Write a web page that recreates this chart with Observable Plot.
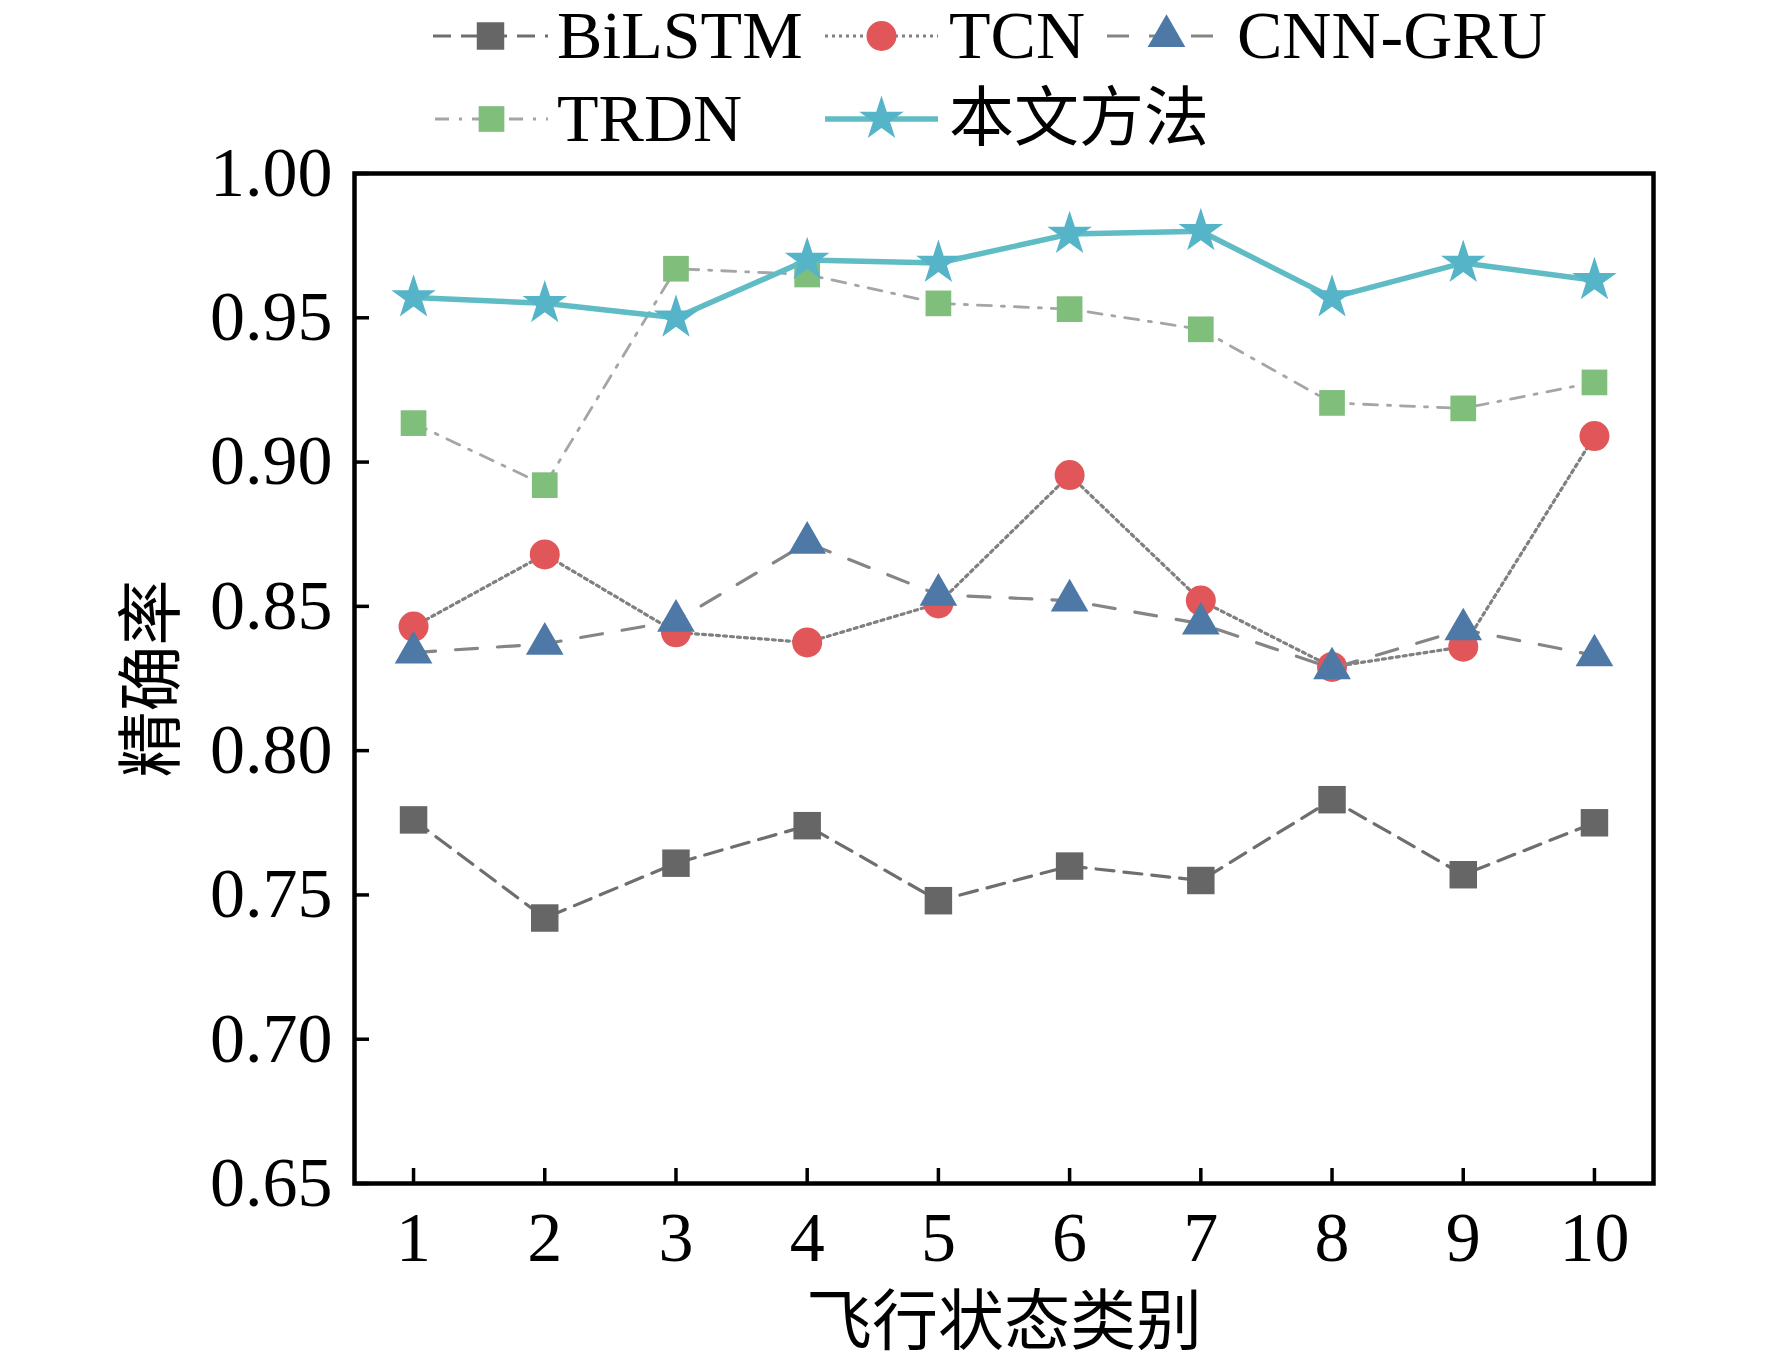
<!DOCTYPE html>
<html><head><meta charset="utf-8">
<script src="https://cdn.jsdelivr.net/npm/d3@7"></script>
<script src="https://cdn.jsdelivr.net/npm/@observablehq/plot@0.6"></script>
<style>
body{margin:0;background:#fff;}
#wrap{width:1772px;height:1367px;position:relative;background:#fff;}
#legend{width:1772px;height:140px;position:relative;}
#legend svg{overflow:visible;display:block;}
#chart svg{overflow:visible;display:block;}
</style></head><body><div id="wrap"><div id="legend"></div><div id="chart"></div></div>
<script>
// ---- data ----
const categories = [1, 2, 3, 4, 5, 6, 7, 8, 9, 10];
const seriesNames = ["BiLSTM", "TCN", "CNN-GRU", "TRDN", "本文方法"];
const bilstm = [0.776, 0.742, 0.761, 0.774, 0.748, 0.760, 0.755, 0.783, 0.757, 0.775];
const tcn    = [0.843, 0.868, 0.841, 0.8375, 0.851, 0.8955, 0.852, 0.829, 0.836, 0.909];
const cnngru = [0.834, 0.837, 0.845, 0.872, 0.854, 0.852, 0.844, 0.8285, 0.842, 0.833];
const trdn   = [0.9135, 0.892, 0.967, 0.965, 0.955, 0.953, 0.946, 0.9205, 0.9186, 0.9276];
const ours   = [0.957, 0.955, 0.950, 0.970, 0.969, 0.979, 0.980, 0.957, 0.969, 0.963];
const yTicks = [0.65, 0.70, 0.75, 0.80, 0.85, 0.90, 0.95, 1.00];
const xLabel = "飞行状态类别";
const yLabel = "精确率";

// ---- styles ----
const styles = [
  {values: bilstm, symbol: "square",   r: 15.5, fill: "#666666", stroke: "#6e6e6e", width: 3.2, dash: "18,10"},
  {values: tcn,    symbol: "circle",   r: 15,   fill: "#e15759", stroke: "#808080", width: 3.2, dash: "3,4"},
  {values: cnngru, symbol: "triangle", r: 14,   fill: "#4e79a7", stroke: "#858585", width: 3.2, dash: "22,20"},
  {values: trdn,   symbol: "square",   r: 14.5, fill: "#7fbf7b", stroke: "#a5a5a5", width: 2.8, dash: "14,10,3,10"},
  {values: ours,   symbol: "star",     r: 14,   fill: "#56b4c9", stroke: "#5fbcc4", width: 5.5, dash: null}
];

const rows = (vals) => categories.map((c, i) => ({x: c, y: vals[i]}));

const font = "'Liberation Serif', 'Noto Sans CJK SC', serif";
const L = 140;
const H = 1367 - L;

const marks = [];
styles.forEach((s) => {
  marks.push(Plot.line(rows(s.values), {x: "x", y: "y", stroke: s.stroke, strokeWidth: s.width, strokeDasharray: s.dash || undefined}));
  marks.push(Plot.dot(rows(s.values), {x: "x", y: "y", symbol: s.symbol, r: s.r, fill: s.fill, stroke: "none"}));
});

const chart = Plot.plot({
  width: 1772,
  height: H,
  marginTop: 173 - L,
  marginBottom: H - (1183 - L),
  marginLeft: 354,
  marginRight: 1772 - 1653,
  style: {fontFamily: font, fontSize: "70px", color: "#000", background: "transparent"},
  x: {domain: [0.55, 10.45], label: null},
  y: {domain: [0.65, 1.0], label: null},
  marks: [
    // labels
    Plot.axisY(yTicks, {anchor: "left", tickSize: 0, tickPadding: 22, tickFormat: d3.format(".2f"), label: null}),
    Plot.axisX(categories, {anchor: "bottom", tickSize: 0, tickPadding: 28, tickFormat: d => String(d), label: null}),
    // inward ticks
    Plot.axisY(yTicks, {anchor: "left", tickSize: 15, dx: 15, strokeWidth: 3.5, tickFormat: () => "", label: null}),
    Plot.axisX(categories, {anchor: "bottom", tickSize: 15, dy: -15, strokeWidth: 3.5, tickFormat: () => "", label: null}),
    ...marks,
    Plot.frame({stroke: "#000", strokeWidth: 4.5}),
    Plot.text([yLabel], {frameAnchor: "left", dx: -(354 - 152), rotate: -90, fontSize: 66, textAnchor: "middle", lineAnchor: "middle", fill: "#000"}),
    Plot.text([xLabel], {frameAnchor: "bottom", dy: 1322 - 1183, fontSize: 66, textAnchor: "middle", lineAnchor: "middle", fill: "#000"})
  ]
});
document.getElementById("chart").appendChild(chart);

// ---- legend ----
const legendPos = [
  {x0: 433, x1: 548, y: 36, tx: 557},
  {x0: 825, x1: 938, y: 36, tx: 949},
  {x0: 1107, x1: 1226, y: 36, tx: 1237},
  {x0: 435, x1: 548, y: 119, tx: 557},
  {x0: 825, x1: 938, y: 119, tx: 949}
];
const symbolMap = {square: d3.symbolSquare, circle: d3.symbolCircle, triangle: d3.symbolTriangle, star: d3.symbolStar};
const lsvg = d3.select("#legend").append("svg").attr("width", 1772).attr("height", L)
  .style("font-family", font);
styles.forEach((s, i) => {
  const p = legendPos[i];
  lsvg.append("line").attr("x1", p.x0).attr("x2", p.x1).attr("y1", p.y).attr("y2", p.y)
    .attr("stroke", s.stroke).attr("stroke-width", s.width).attr("stroke-dasharray", s.dash);
  lsvg.append("path").attr("transform", `translate(${(p.x0 + p.x1) / 2},${p.y})`)
    .attr("d", d3.symbol(symbolMap[s.symbol], Math.PI * s.r * s.r)()).attr("fill", s.fill);
  lsvg.append("text").attr("x", p.tx).attr("y", p.y).attr("dy", "0.33em")
    .attr("font-size", i === 4 ? 65 : 68).attr("fill", "#000").text(seriesNames[i]);
});
</script></body></html>
